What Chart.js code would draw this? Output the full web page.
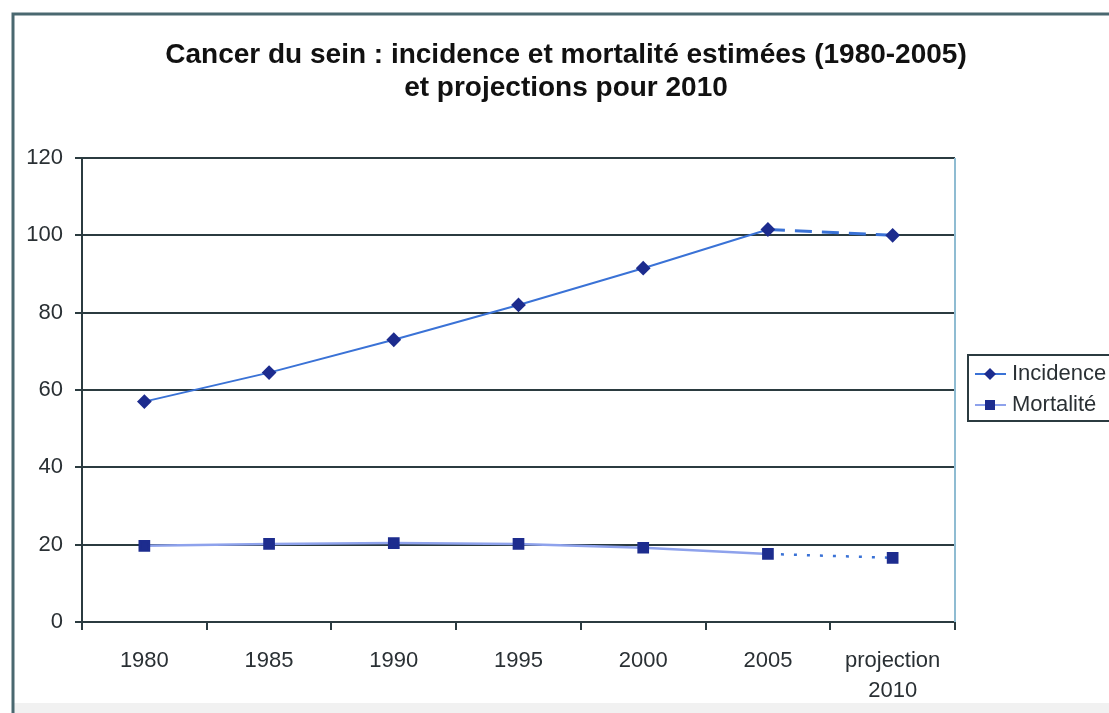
<!DOCTYPE html>
<html>
<head>
<meta charset="utf-8">
<script src="https://cdn.jsdelivr.net/npm/chart.js@4.4.1/dist/chart.umd.min.js"></script>
<style>
  html, body { margin: 0; padding: 0; background: #fff; overflow: hidden; }
</style>
</head>
<body>
<canvas id="myChart" width="1109" height="713"></canvas>
<script>
// data
const categories = ['1980', '1985', '1990', '1995', '2000', '2005', ['projection', '2010']];
const incidence = [57, 64.5, 73, 82, 91.5, 101.5, 100];
const mortalite = [19.7, 20.2, 20.4, 20.2, 19.2, 17.6, 16.6];
const yTicks = [0, 20, 40, 60, 80, 100, 120];
const seriesNames = ['Incidence', 'Mortalité'];
const titleLines = ['Cancer du sein : incidence et mortalité estimées (1980-2005)', 'et projections pour 2010'];

const FONT = 'Liberation Sans, Arial, sans-serif';
const dark = '#2b3b40';
const last = categories.length - 1;

// frame, title, plot border and the boxed legend (Excel look)
const excelBits = {
  id: 'excelBits',
  beforeDraw(chart) {
    const c = chart.ctx;
    c.save();
    c.fillStyle = '#fff';
    c.fillRect(0, 0, chart.width, chart.height);
    c.fillStyle = '#f1f1f1';
    c.fillRect(14, 703, chart.width, 10);
    c.strokeStyle = '#4a6870';
    c.lineWidth = 3;
    c.beginPath();
    c.moveTo(13, chart.height);
    c.lineTo(13, 14);
    c.lineTo(chart.width, 14);
    c.stroke();
    c.fillStyle = '#111';
    c.font = 'bold 28px ' + FONT;
    c.textAlign = 'center';
    c.textBaseline = 'middle';
    c.fillText(titleLines[0], 566, 55);
    c.fillText(titleLines[1], 566, 88);
    c.restore();
  },
  afterDraw(chart) {
    const c = chart.ctx;
    const a = chart.chartArea;
    c.save();
    c.strokeStyle = '#8fbcd2';
    c.lineWidth = 2;
    c.beginPath();
    c.moveTo(a.right, a.top);
    c.lineTo(a.right, a.bottom);
    c.stroke();

    c.strokeStyle = dark;
    c.lineWidth = 2;
    c.strokeRect(968, 355, 170, 66);
    chart.data.datasets.forEach((ds, i) => {
      const y = 374 + i * 31;
      c.strokeStyle = ds.borderColor;
      c.lineWidth = 2;
      c.beginPath();
      c.moveTo(975, y);
      c.lineTo(1006, y);
      c.stroke();
      c.fillStyle = ds.pointBackgroundColor;
      c.beginPath();
      if (ds.pointStyle === 'rectRot') {
        c.moveTo(990, y - 6); c.lineTo(996, y); c.lineTo(990, y + 6); c.lineTo(984, y);
      } else {
        c.rect(985, y - 5, 10, 10);
      }
      c.closePath();
      c.fill();
      c.fillStyle = '#2a3034';
      c.font = '22px ' + FONT;
      c.textAlign = 'left';
      c.textBaseline = 'middle';
      c.fillText(ds.label, 1012, y);
    });
    c.restore();
  }
};

const ctx = document.getElementById('myChart');
const myChart = new Chart(ctx, {
  type: 'line',
  data: {
    labels: categories,
    datasets: [{
      label: seriesNames[0],
      data: incidence,
      borderColor: '#3a72d6',
      borderWidth: 2,
      pointStyle: 'rectRot',
      pointRadius: 6,
      pointBackgroundColor: '#1d2c8e',
      pointBorderColor: '#1d2c8e',
      tension: 0,
      segment: {
        borderDash: s => s.p1DataIndex === last ? [17, 10] : undefined,
        borderWidth: s => s.p1DataIndex === last ? 3 : undefined
      }
    }, {
      label: seriesNames[1],
      data: mortalite,
      borderColor: '#8ea2ec',
      borderWidth: 2.5,
      pointStyle: 'rect',
      pointRadius: 6.5,
      pointBackgroundColor: '#1d2c8e',
      pointBorderColor: '#1d2c8e',
      tension: 0,
      segment: {
        borderDash: s => s.p1DataIndex === last ? [3, 10] : undefined,
        borderColor: s => s.p1DataIndex === last ? '#3a72d6' : undefined
      }
    }]
  },
  options: {
    responsive: false,
    animation: false,
    layout: { padding: { top: 158, right: 154, left: 0, bottom: 0 } },
    plugins: {
      legend: { display: false },
      title: { display: false },
      tooltip: { enabled: false }
    },
    scales: {
      x: {
        offset: true,
        afterFit: s => { s.height = 91; },
        grid: { offset: true, drawOnChartArea: false, drawTicks: true, tickLength: 8, color: dark, lineWidth: 2 },
        border: { color: dark, width: 2 },
        ticks: {
          color: '#2a3034',
          padding: 16,
          maxRotation: 0,
          autoSkip: false,
          font: { family: FONT, size: 22, lineHeight: 1.35 }
        }
      },
      y: {
        min: 0,
        max: 120,
        afterFit: s => { s.width = 82; },
        afterBuildTicks: s => { s.ticks = yTicks.map(v => ({ value: v })); },
        grid: { color: dark, lineWidth: 2, tickLength: 7, tickColor: dark },
        border: { color: dark, width: 2 },
        ticks: {
          color: '#2a3034',
          padding: 12,
          font: { family: FONT, size: 22 }
        }
      }
    }
  },
  plugins: [excelBits]
});
</script>
</body>
</html>
